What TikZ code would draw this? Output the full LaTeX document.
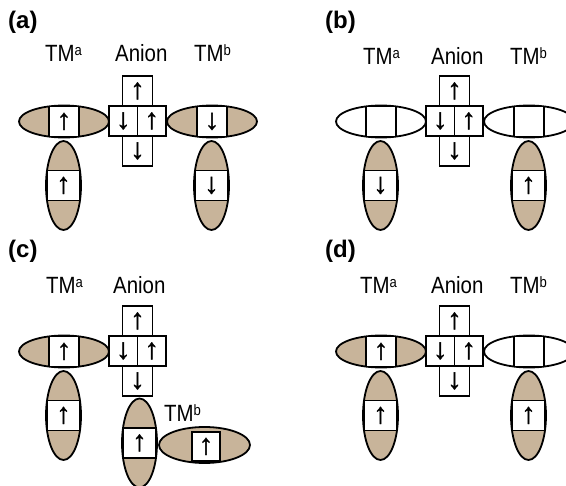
\documentclass[tikz,border=0pt]{standalone}
\usepackage{fontspec}
\setmainfont{Liberation Sans}
\newfontfamily\labfont[FakeStretch=0.87]{Liberation Sans}
\newfontfamily\spinfont[FakeBold=1.2]{Liberation Sans}
\usetikzlibrary{shapes.geometric}
\definecolor{orbtan}{RGB}{200,180,154}

\tikzset{
  orb/.style={ellipse, draw, line width=1.8pt, inner sep=0pt, fill=orbtan},
  horb/.style={orb, minimum width=90pt, minimum height=32pt},
  vorb/.style={orb, minimum width=35pt, minimum height=89pt},
  cell/.style={rectangle, draw, line width=1.4pt, fill=white, inner sep=0pt,
    font=\spinfont\fontsize{29pt}{29pt}\selectfont},
  hcell/.style={cell, minimum width=30pt, minimum height=30.2pt},
  vcell/.style={cell, minimum width=33pt, minimum height=30pt},
  acell/.style={cell, minimum width=30pt, minimum height=30pt},
  mcell/.style={cell, minimum width=28.5pt, minimum height=30pt},
  lab/.style={inner sep=0pt, anchor=base west,
    font=\labfont\fontsize{23.5pt}{24pt}\selectfont},
  tag/.style={inner sep=0pt, anchor=base west,
    font=\bfseries\fontsize{24pt}{24pt}\selectfont},
}

% superscript site label
\newcommand\tmsup[1]{\raisebox{6pt}{\fontsize{15pt}{15pt}\selectfont #1}}
% lobe lying along x with its spin cell
\newcommand\horbital[5]{%
  \node[horb, fill=#4] (#1) at (#2,#3) {};
  \node[hcell] (#1-cell) at (#1.center) {#5};}
% lobe standing along y with its spin cell
\newcommand\vorbital[5]{%
  \node[vorb, fill=#4] (#1) at (#2,#3) {};
  \node[vcell] (#1-cell) at (#1.center) {#5};}
% the anion p-orbital cross
\newcommand\anioncross[1]{%
  \node[acell] (#1-up) at (137.5,91) {↑};
  \node[mcell] (#1-ml) at (123.25,121) {↓};
  \node[mcell] (#1-mr) at (151.75,121) {↑};
  \node[acell] (#1-dn) at (137.5,151) {↓};}

\begin{document}
\begin{tikzpicture}[x=1pt, y=-1pt]
\useasboundingbox (0,0) rectangle (566,486);

% ---------- (a) ----------
\node[tag] (a-tag) at (8,29) {(a)};
\node[lab] (a-lab-tma) at (45,62) {TM\tmsup{a}};
\node[lab] (a-lab-an) at (115,62) {Anion};
\node[lab] (a-lab-tmb) at (194,62) {TM\tmsup{b}};
\horbital{a-tma-h}{64}{121.5}{orbtan}{↑}
\vorbital{a-tma-v}{63.5}{185.5}{orbtan}{↑}
\anioncross{a}
\horbital{a-tmb-h}{212}{121.5}{orbtan}{↓}
\vorbital{a-tmb-v}{211.5}{185.5}{orbtan}{↓}

% ---------- (b) ----------
\node[tag] (b-tag) at (325,29) {(b)};
\node[lab] (b-lab-tma) at (363,64.5) {TM\tmsup{a}};
\node[lab] (b-lab-an) at (431,64.5) {Anion};
\node[lab] (b-lab-tmb) at (510,64.5) {TM\tmsup{b}};
\begin{scope}[shift={(317,0)}]
  \horbital{b-tma-h}{64}{121.5}{white}{}
  \vorbital{b-tma-v}{63.5}{185.5}{orbtan}{↓}
  \anioncross{b}
  \horbital{b-tmb-h}{212}{121.5}{white}{}
  \vorbital{b-tmb-v}{211.5}{185.5}{orbtan}{↑}
\end{scope}

% ---------- (c) ----------
\node[tag] (c-tag) at (8,258) {(c)};
\node[lab] (c-lab-tma) at (46,293.3) {TM\tmsup{a}};
\node[lab] (c-lab-an) at (113,293.3) {Anion};
\node[lab] (c-lab-tmb) at (164,421.5) {TM\tmsup{b}};
\begin{scope}[shift={(0,230)}]
  \horbital{c-tma-h}{64}{121.5}{orbtan}{↑}
  \vorbital{c-tma-v}{63.5}{185.5}{orbtan}{↑}
  \anioncross{c}
\end{scope}
\vorbital{c-tmb-v}{139.5}{443}{orbtan}{↑}
\node[orb, minimum width=91pt, minimum height=36pt] (c-tmb-h) at (204.5,445) {};
\node[cell, minimum width=28pt, minimum height=29pt] (c-tmb-h-cell) at (206,446.5) {↑};

% ---------- (d) ----------
\node[tag] (d-tag) at (325,258) {(d)};
\node[lab] (d-lab-tma) at (360,293.3) {TM\tmsup{a}};
\node[lab] (d-lab-an) at (431,293.3) {Anion};
\node[lab] (d-lab-tmb) at (510,293.3) {TM\tmsup{b}};
\begin{scope}[shift={(317,230)}]
  \horbital{d-tma-h}{64}{121.5}{orbtan}{↑}
  \vorbital{d-tma-v}{63.5}{185.5}{orbtan}{↑}
  \anioncross{d}
  \horbital{d-tmb-h}{212}{121.5}{white}{}
  \vorbital{d-tmb-v}{211.5}{185.5}{orbtan}{↑}
\end{scope}
\end{tikzpicture}
\end{document}
